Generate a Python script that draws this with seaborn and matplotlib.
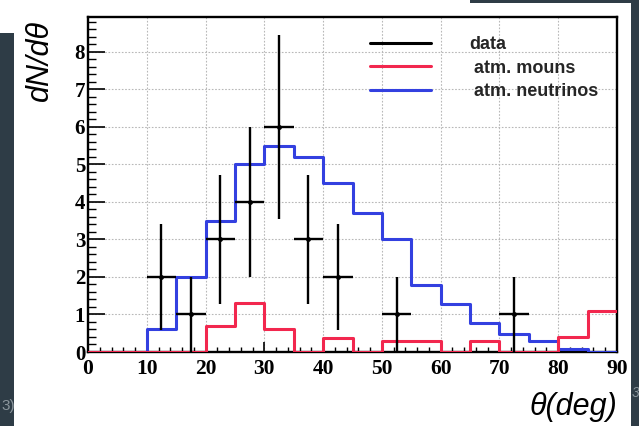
import numpy as np
import matplotlib
matplotlib.use("Agg")
import matplotlib.pyplot as plt
from matplotlib.patches import Rectangle
from matplotlib.lines import Line2D
from matplotlib.ticker import MultipleLocator
import seaborn as sns

# ---------------- data ----------------
bin_edges = [0, 5, 10, 15, 20, 25, 30, 35, 40, 45, 50, 55, 60, 65, 70, 75, 80, 85, 90]
neutrinos = [0, 0, 0.6, 2.0, 3.5, 5.0, 5.5, 5.2, 4.5, 3.7, 3.0, 1.78, 1.28, 0.76, 0.47, 0.28, 0.08, 0.01]
muons = [0, 0, 0, 0, 0.7, 1.3, 0.6, 0, 0.38, 0, 0.28, 0.28, 0, 0.28, 0, 0, 0.41, 1.1]
data_theta = [12.5, 17.5, 22.5, 27.5, 32.5, 37.5, 42.5, 52.5, 72.5]
data_counts = [2, 1, 3, 4, 6, 3, 2, 1, 1]
data_err = [1.41, 1.0, 1.73, 2.0, 2.45, 1.73, 1.41, 1.0, 1.0]
data_half_width = [2.5] * len(data_theta)
legend_labels = ["data", " atm. mouns", " atm. neutrinos"]
x_ticks = [0, 10, 20, 30, 40, 50, 60, 70, 80, 90]
y_ticks = [0, 1, 2, 3, 4, 5, 6, 7, 8]

BLUE = "#3340e0"
RED = "#f2274e"
DARK = "#2e3c46"

sns.set_theme(style="white")
plt.rcParams["font.family"] = ["Liberation Sans", "DejaVu Sans"]

W, H = 639, 426
fig = plt.figure(figsize=(W / 100, H / 100), dpi=100, facecolor=DARK)

# white panels of the screenshot (behind the axes)
fig.patches.append(Rectangle((14 / W, 0), (631 - 14) / W, (H - 3) / H,
                             transform=fig.transFigure, facecolor="white",
                             edgecolor="none", zorder=-5))
fig.patches.append(Rectangle((0, (H - 33) / H), 470 / W, 33 / H,
                             transform=fig.transFigure, facecolor="white",
                             edgecolor="none", zorder=-5))
fig.text(1 / W, 1 - 406 / H, "3)", ha="left", va="center", fontsize=11,
         color="#8a959c")
fig.text(632 / W, 1 - 393 / H, "3", ha="left", va="center", fontsize=10,
         color="#8a959c", fontstyle="italic")

ax = fig.add_axes([88 / W, (H - 352) / H, 529 / W, 335 / H])
ax.set_facecolor("white")

centers = np.array(bin_edges[:-1]) + np.diff(bin_edges) / 2

sns.histplot(x=centers, weights=neutrinos, bins=bin_edges, element="step",
             fill=False, color=BLUE, linewidth=2.2, ax=ax, zorder=3)
sns.histplot(x=centers, weights=muons, bins=bin_edges, element="step",
             fill=False, color=RED, linewidth=2.2, ax=ax, zorder=4)

ax.errorbar(data_theta, data_counts, xerr=data_half_width, yerr=data_err,
            fmt="o", ms=2.5, color="black", ecolor="black", elinewidth=1.7,
            capsize=0, zorder=5)

ax.set_xlim(0, 90)
ax.set_ylim(0, 8.93)
ax.set_xticks(x_ticks)
ax.set_yticks(y_ticks)
ax.xaxis.set_minor_locator(MultipleLocator(2))
ax.yaxis.set_minor_locator(MultipleLocator(0.2))

ax.grid(which="major", linestyle=(0, (1.5, 1.5)), color="#b8b8b8", linewidth=0.8)
ax.set_axisbelow(True)

for sp in ax.spines.values():
    sp.set_visible(True)
    sp.set_color("black")
    sp.set_linewidth(1.7)

ax.tick_params(axis="y", which="major", direction="in", length=12, width=1.2,
               pad=2, left=True, right=False, color="black")
ax.tick_params(axis="y", which="minor", direction="in", length=6, width=1.0,
               left=True, right=False, color="black")
ax.tick_params(axis="x", which="major", direction="in", length=7, width=1.2,
               pad=5, bottom=True, top=False, color="black")
ax.tick_params(axis="x", which="minor", direction="in", length=3.5, width=1.0,
               bottom=True, top=False, color="black")

for lab in ax.get_yticklabels():
    lab.set_fontfamily("Liberation Serif")
    lab.set_fontweight("bold")
    lab.set_fontsize(15)
    lab.set_color("black")
for lab in ax.get_xticklabels():
    lab.set_fontfamily("Liberation Serif")
    lab.set_fontweight("bold")
    lab.set_fontsize(15.5)
    lab.set_color("black")

ax.set_ylabel("dN/dθ", fontsize=22, fontstyle="italic", color="black", loc="top")
ax.yaxis.set_label_coords(-0.062, 0.991)
ax.set_xlabel("θ(deg)", fontsize=22, fontstyle="italic", color="black", loc="right")
ax.xaxis.set_label_coords(1.0, -0.118)

handles = [Line2D([], [], color="black", lw=2.2),
           Line2D([], [], color=RED, lw=2.2),
           Line2D([], [], color=BLUE, lw=2.2)]
leg = ax.legend(handles, legend_labels, loc="upper left",
                bbox_to_anchor=((370 - 88) / 529, (352 - 36) / 335),
                frameon=False, borderpad=0, borderaxespad=0,
                handlelength=3.4, handletextpad=2.1, labelspacing=0.37,
                prop={"family": "Liberation Sans", "weight": "bold", "size": 13})

fig.savefig("out.png", dpi=100, facecolor=DARK)
